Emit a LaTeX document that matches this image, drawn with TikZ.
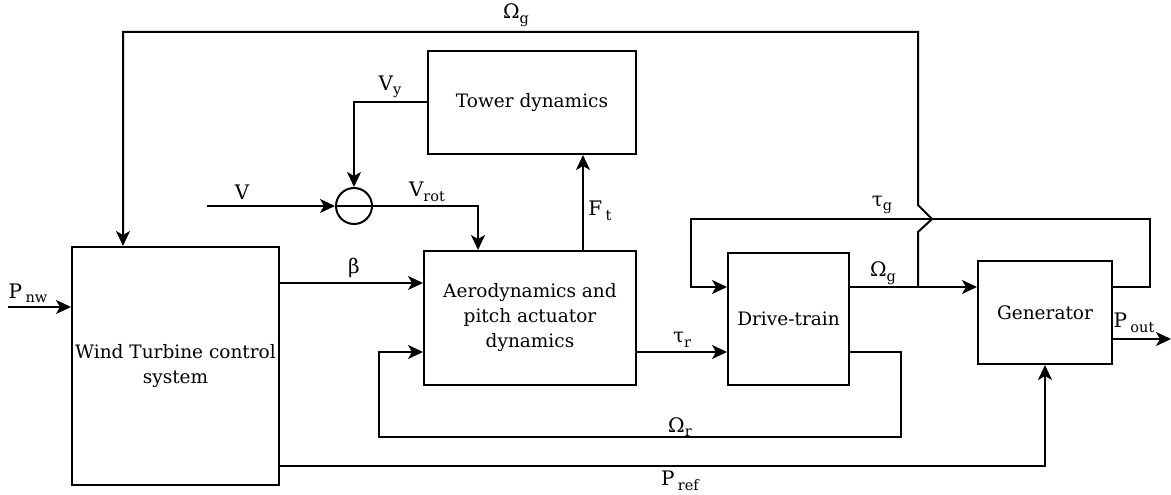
\documentclass[tikz,border=0pt]{standalone}
\usepackage{fontspec}
\setmainfont{DejaVu Serif}
\usetikzlibrary{arrows.meta,calc}
\newcommand{\lbsub}[2]{#1\raisebox{-4.5pt}{\fontsize{14.5}{14.5}\selectfont #2}}
\begin{document}
\begin{tikzpicture}[x=1pt,y=-1pt,
  line width=2pt,
  blk/.style={draw, rectangle, inner sep=0pt, align=center, font=\fontsize{18.5}{25}\selectfont},
  arr/.style={-{Stealth[length=15pt,width=14pt,inset=4pt]}},
  lbl/.style={inner sep=0pt, font=\fontsize{20}{20}\selectfont}]
\useasboundingbox (0,0) rectangle (1171,495);
% blocks
\node[blk, minimum width=207pt, minimum height=238pt] (wt) at (175.5,366) {Wind Turbine control\\system};
\node[blk, minimum width=212pt, minimum height=134pt] (aero) at (530,318) {Aerodynamics and\\pitch actuator\\dynamics};
\node[blk, minimum width=208pt, minimum height=103pt] (tower) at (532,102.5) {Tower dynamics};
\node[blk, minimum width=121pt, minimum height=132pt] (drive) at (788.5,319) {Drive-train};
\node[blk, minimum width=134pt, minimum height=103pt] (gen) at (1045,312.5) {Generator};
\node[draw, circle, minimum size=36pt, inner sep=0pt] (sum) at (354,206) {};
\draw (sum.west) -- (sum.east);
% coordinates
\coordinate (pin) at (8,307);
\coordinate (yb) at (0,283);
\coordinate (vin) at (207,206);
\coordinate (vx) at (478,0);
\coordinate (ftx) at (583,0);
\coordinate (ytr) at (0,352);
\coordinate (or1) at (901,352);
\coordinate (or2) at (901,437);
\coordinate (ol2) at (379,437);
\coordinate (ol1) at (379,352);
\coordinate (yg) at (0,287);
\coordinate (jx) at (918,287);
\coordinate (j1) at (918,232);
\coordinate (j2) at (932,219);
\coordinate (j3) at (918,205);
\coordinate (t1) at (918,32);
\coordinate (t2) at (123,32);
\coordinate (tg1) at (1150,287);
\coordinate (tg2) at (1150,219);
\coordinate (tg3) at (691,219);
\coordinate (tg4) at (691,287);
\coordinate (pout) at (1171,339);
\coordinate (pr) at (1045,466);
% connectors
\draw[arr] (pin) -- (pin -| wt.west);
\draw[arr] (wt.east |- yb) -- (aero.west |- yb);
\draw[arr] (vin) -- (sum.west);
\draw[arr] (tower.west) -| (sum.north);
\draw[arr] (sum.east) -| (vx |- aero.north);
\draw[arr] (ftx |- aero.north) -- (ftx |- tower.south);
\draw[arr] (aero.east |- ytr) -- (drive.west |- ytr);
\draw[arr] (drive.east |- or1) -- (or1) -- (or2) -- (ol2) -- (ol1) -- (aero.west |- ol1);
\draw[arr] (drive.east |- yg) -- (gen.west |- yg);
\draw[arr] (jx) -- (j1) -- (j2) -- (j3) -- (t1) -- (t2) -- (t2 |- wt.north);
\draw[arr] (gen.east |- tg1) -- (tg1) -- (tg2) -- (tg3) -- (tg4) -- (drive.west |- tg4);
\draw[arr] (gen.east |- pout) -- (pout);
\draw[arr] (wt.east |- pr) -- (pr) -- (gen.south);
% labels
\node[lbl] (lOgt) at (516,15) {\lbsub{Ω}{g}};
\node[lbl] (lVy) at (390,87) {\lbsub{V}{y}};
\node[lbl] (lV) at (242,192) {V};
\node[lbl] (lVrot) at (427,192) {\lbsub{V}{rot}};
\node[lbl] (lFt) at (600,211) {\lbsub{F\,}{t}};
\node[lbl] (lb) at (354,268) {β};
\node[lbl] (lPnw) at (28,293) {\lbsub{P\,}{nw}};
\node[lbl] (ltr) at (682,340) {\lbsub{τ}{r}};
\node[lbl] (lOr) at (680,427) {\lbsub{Ω}{r}};
\node[lbl] (lPref) at (680,481) {\lbsub{P\,}{ref}};
\node[lbl] (lOg) at (883,273) {\lbsub{Ω}{g}};
\node[lbl] (ltg) at (882,205) {\lbsub{τ}{g}};
\node[lbl] (lPout) at (1134,323) {\lbsub{P\,}{out}};
\end{tikzpicture}
\end{document}
